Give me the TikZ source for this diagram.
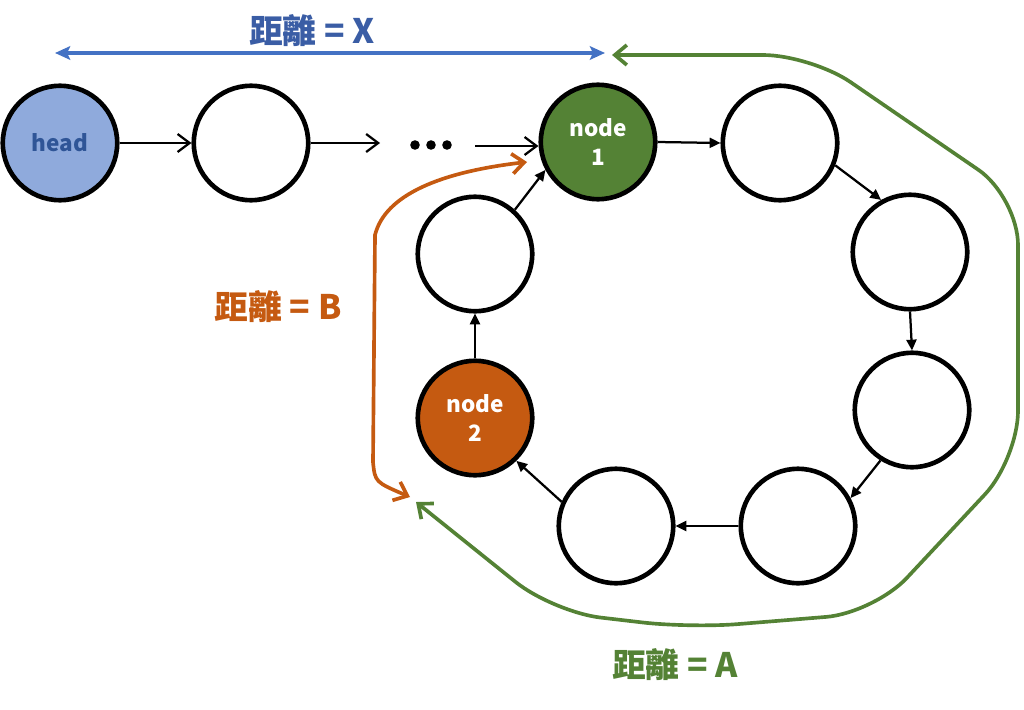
\documentclass[tikz,border=0pt]{standalone}
\usepackage{fontspec}
\setmainfont{Noto Sans CJK TC}
\usetikzlibrary{arrows.meta}
\definecolor{headfill}{HTML}{8FAADC}
\definecolor{headtext}{HTML}{2F5597}
\definecolor{node1fill}{HTML}{548235}
\definecolor{node2fill}{HTML}{C55A11}
\definecolor{lenblue}{HTML}{4472C4}
\definecolor{lenbluetext}{HTML}{3A5DA5}
\definecolor{lengreen}{HTML}{548235}
\definecolor{lenorange}{HTML}{C55A11}
\begin{document}
\begin{tikzpicture}[
    x=0.025cm, y=-0.025cm,
    listnode/.style={circle, draw, line width=3.3pt, minimum size=2.86cm,
        inner sep=0pt, align=center, font=\bfseries\fontsize{16}{21}\selectfont},
    nextarrow/.style={-{Straight Barb[length=0.3cm, width=0.45cm]}, line width=1.6pt},
    ringarrow/.style={-{Triangle[length=0.27cm, width=0.25cm]}, line width=1.6pt},
    bluearrow/.style={{Stealth[length=0.38cm, width=0.34cm, inset=0.08cm]}-{Stealth[length=0.38cm, width=0.34cm, inset=0.08cm]},
        line width=2.6pt, draw=lenblue},
    lenpath/.style={line width=2.6pt,
        {Straight Barb[length=0.3cm, width=0.5cm]}-{Straight Barb[length=0.3cm, width=0.5cm]}},
    distlabel/.style={font=\bfseries\fontsize{24}{28}\selectfont}
]
\useasboundingbox (0,0) rectangle (1024,709);

\node (Head) [listnode, fill=headfill, text=headtext] at (60,143) {head};
\node (List01) [listnode] at (251,143) {};
\node (Node1) [listnode, fill=node1fill, text=white] at (598,142) {node\\1};
\node (Ring01) [listnode] at (780,143) {};
\node (Ring02) [listnode] at (910,252) {};
\node (Ring03) [listnode] at (912,410) {};
\node (Ring04) [listnode] at (798,526) {};
\node (Ring05) [listnode] at (616,526) {};
\node (Node2) [listnode, fill=node2fill, text=white] at (475,418) {node\\2};
\node (Ring06) [listnode] at (475,254) {};

\coordinate (DotsIn) at (380,143);
\coordinate (DotsOut) at (475,146);
\draw [nextarrow] (Head) -- (List01);
\draw [nextarrow] (List01.east) -- (DotsIn);
\foreach \x in {415,431,447}
  \fill (\x,145) circle (4.8);
\draw [nextarrow] (DotsOut) -- (DotsOut -| Node1.west);

\draw [ringarrow] (Node1.east) -- (Ring01.west);
\draw [ringarrow] (Ring01.-22) -- (Ring02.119);
\draw [ringarrow] (Ring02.south) -- (Ring03.north);
\draw [ringarrow] (Ring03.238) -- (Ring04.28);
\draw [ringarrow] (Ring04.west) -- (Ring05.east);
\draw [ringarrow] (Ring05.156) -- (Node2.-46);
\draw [ringarrow] (Node2.north) -- (Ring06.south);
\draw [ringarrow] (Ring06.48) -- (Node1.208);

\coordinate (XStart) at (55,53);
\coordinate (XEnd) at (605,53);
\draw [bluearrow] (XStart) -- (XEnd);
\node (LabelX) [distlabel, text=lenbluetext] at (312,31) {距離 = X};

\coordinate (AStart) at (612,55);
\coordinate (AEnd) at (416,502);
\draw [lenpath, draw=lengreen, rounded corners=1.2cm] (AStart) -- (811,55) -- (1018,197)
  -- (1018,459) -- (874,613) -- (690,628) -- (553,612) -- (AEnd);
\node (LabelA) [distlabel, text=lengreen] at (675,665) {距離 = A};

\coordinate (BStart) at (527,162);
\coordinate (BEnd) at (410,497);
\draw [lenpath, draw=lenorange] (BStart) .. controls (440,172) and (385,195) .. (375,235)
  -- (373,462) .. controls (375,482) .. (BEnd);
\node (LabelB) [distlabel, text=lenorange] at (278,307) {距離 = B};

\end{tikzpicture}
\end{document}
